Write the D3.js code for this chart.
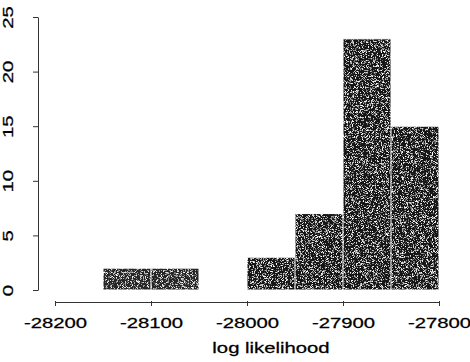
<!DOCTYPE html>
<html>
<head>
<meta charset="utf-8">
<script src="https://cdn.jsdelivr.net/npm/d3@7"></script>
<style>
  html, body { margin: 0; padding: 0; background: #fff; }
  svg { display: block; }
  text { font-family: "Liberation Sans", Arial, sans-serif; fill: #000; }
</style>
</head>
<body>
<div id="chart"></div>
<script>
// histogram of log likelihood values
var breaks = [-28150, -28100, -28050, -28000, -27950, -27900, -27850, -27800];
var counts = [2, 2, 0, 3, 7, 23, 15];
var xTicks = [-28200, -28100, -28000, -27900, -27800];
var yTicks = [0, 5, 10, 15, 20, 25];
var xLabel = "log likelihood";

var width = 470, height = 362;
var stretch = 1.4; // the scan has wide glyphs

var svg = d3.select("#chart").append("svg")
    .attr("width", width)
    .attr("height", height);

// grainy fill like the printed original
var defs = svg.append("defs");
var f = defs.append("filter").attr("id", "grain")
    .attr("x", 0).attr("y", 0).attr("width", 1).attr("height", 1);
f.append("feTurbulence")
    .attr("type", "fractalNoise")
    .attr("baseFrequency", 2.2)
    .attr("numOctaves", 1)
    .attr("seed", 3)
    .attr("result", "noise");
f.append("feColorMatrix")
    .attr("in", "noise")
    .attr("type", "matrix")
    .attr("values", "0 0 0 0 1  0 0 0 0 1  0 0 0 0 1  5 0 0 0 -2.6")
    .attr("result", "specks");
f.append("feComposite")
    .attr("in", "specks")
    .attr("in2", "SourceGraphic")
    .attr("operator", "in")
    .attr("result", "sp");
var m = f.append("feMerge");
m.append("feMergeNode").attr("in", "SourceGraphic");
m.append("feMergeNode").attr("in", "sp");

var x = d3.scaleLinear().domain([-28200, -27800]).range([55, 439]);
var y = d3.scaleLinear().domain([0, 25]).range([290, 17]);

var bins = counts.map(function (c, i) {
  return { x0: breaks[i], x1: breaks[i + 1], n: c };
}).filter(function (d) { return d.n > 0; });

svg.append("g").selectAll("rect")
  .data(bins)
  .enter().append("rect")
    .attr("x", function (d) { return x(d.x0); })
    .attr("y", function (d) { return y(d.n); })
    .attr("width", function (d) { return x(d.x1) - x(d.x0); })
    .attr("height", function (d) { return y(0) - y(d.n); })
    .attr("fill", function (d) { return d.n <= 2 ? "#262626" : "#141414"; })
    .attr("stroke", "#fff")
    .attr("stroke-width", 1)
    .attr("filter", "url(#grain)");

// x axis
var gx = svg.append("g")
    .attr("transform", "translate(0,302)")
    .call(d3.axisBottom(x).tickValues(xTicks).tickSize(5).tickSizeOuter(0).tickFormat(d3.format("d")));
gx.select(".domain").attr("stroke", "#333");
gx.selectAll(".tick line").attr("stroke", "#333").attr("y1", -1).attr("y2", 4);
gx.selectAll(".tick text")
    .attr("y", null).attr("dy", null)
    .attr("transform", "translate(0,25.5) scale(" + stretch + ",1)")
    .style("font-size", "14.5px")
    .style("stroke", "#000").style("stroke-width", 0.25)
    .text(function (d) { return d3.format("d")(d).replace("\u2212", "-"); });

// y axis
var gy = svg.append("g")
    .attr("transform", "translate(38,0)")
    .call(d3.axisLeft(y).tickValues(yTicks).tickSize(5).tickSizeOuter(0));
gy.select(".domain").attr("stroke", "#333");
gy.selectAll(".tick line").attr("stroke", "#333");
gy.selectAll(".tick text")
    .attr("x", null).attr("dy", null)
    .attr("text-anchor", "middle")
    .attr("transform", "translate(-25,0) rotate(-90) scale(" + stretch + ",1)")
    .style("font-size", "14.5px")
    .style("stroke", "#000").style("stroke-width", 0.25);

// axis title
svg.append("text")
    .attr("text-anchor", "middle")
    .attr("transform", "translate(271,353) scale(" + stretch + ",1)")
    .style("font-size", "14.5px")
    .style("stroke", "#000").style("stroke-width", 0.25)
    .text(xLabel);
</script>
</body>
</html>
